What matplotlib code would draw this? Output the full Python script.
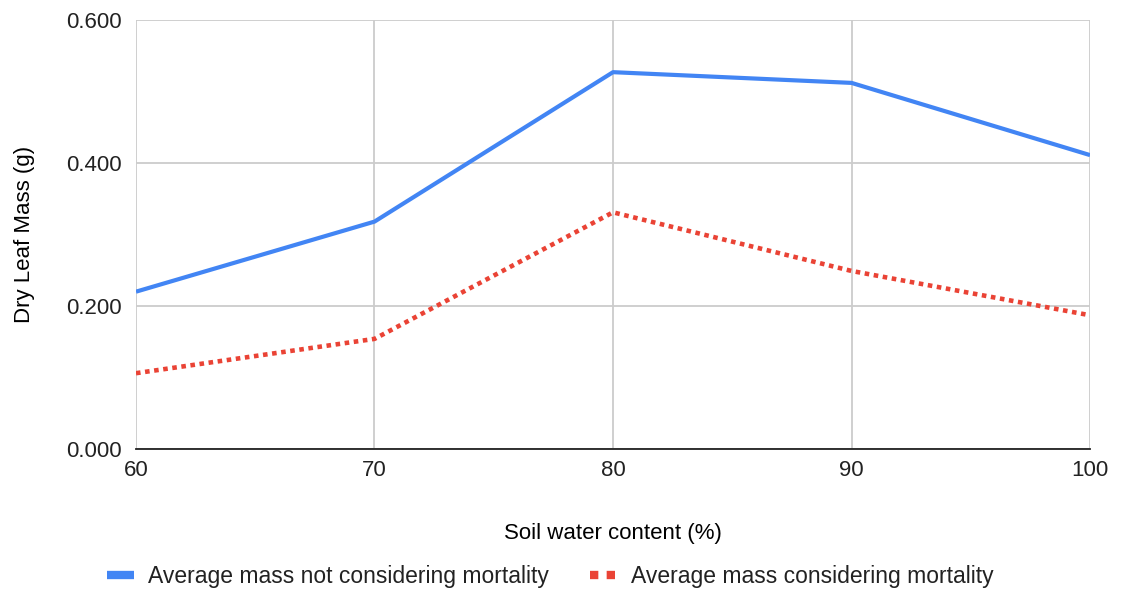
import matplotlib
matplotlib.use("Agg")
import matplotlib.pyplot as plt
from matplotlib.lines import Line2D

BLUE = "#4285f4"
RED = "#ea4335"
GRID = "#cccccc"
DARK = "#222222"

plt.rcParams['font.family'] = ['Liberation Sans', 'DejaVu Sans']
plt.rcParams['text.color'] = DARK

water = [60, 70, 80, 90, 100]
mass_no_mortality = [0.220, 0.318, 0.527, 0.512, 0.411]
mass_mortality = [0.106, 0.154, 0.331, 0.249, 0.187]

fig = plt.figure(figsize=(11.21, 5.91), dpi=100)
ax = fig.add_axes([0.1213, 0.2403, 0.8511, 0.7259])

ax.plot(water, mass_no_mortality, color=BLUE, lw=3, solid_capstyle='butt',
        label="Average mass not considering mortality", zorder=3)
ax.plot(water, mass_mortality, color=RED, lw=3.3, dashes=(1, 1),
        dash_capstyle='butt', label="Average mass considering mortality", zorder=3)

ax.set_xlim(60, 100)
ax.set_ylim(0, 0.6)
ax.set_xticks(water)
ax.set_yticks([0, 0.2, 0.4, 0.6])
ax.set_yticklabels(["0.000", "0.200", "0.400", "0.600"])

ax.grid(True, color=GRID, lw=1.3)
ax.set_axisbelow(True)
for side in ['top', 'right', 'left']:
    ax.spines[side].set_visible(False)
ax.spines['bottom'].set_color(DARK)
ax.spines['bottom'].set_linewidth(1.3)
ax.tick_params(length=0, labelsize=16, colors=DARK, pad=10)
ax.tick_params(axis='x', pad=8)

ax.set_xlabel("Soil water content (%)", fontsize=16, labelpad=30)
ax.set_ylabel("Dry Leaf Mass (g)", fontsize=16, labelpad=23)

handles = [
    Line2D([], [], color=BLUE, lw=6, solid_capstyle='butt'),
    Line2D([], [], color=RED, lw=6, dashes=(1, 1), dash_capstyle='butt'),
]
fig.legend(handles, ["Average mass not considering mortality",
                     "Average mass considering mortality"],
           loc='center', bbox_to_anchor=(0.491, 0.025), ncol=2, frameon=False,
           fontsize=16.5, handlelength=1.2, columnspacing=1.8, handletextpad=0.6)

fig.savefig("out.png", dpi=100)
